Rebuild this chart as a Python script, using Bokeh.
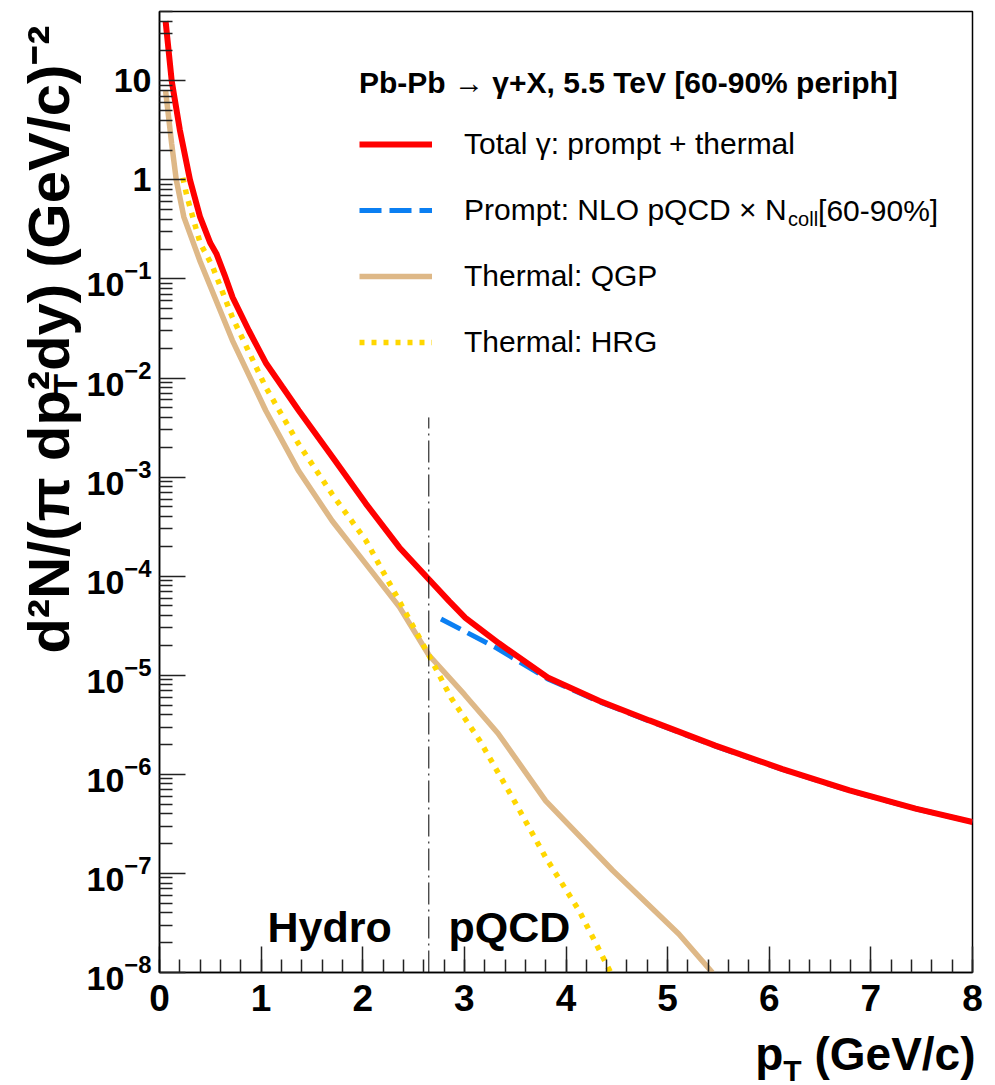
import math
from bokeh.plotting import figure
from bokeh.layouts import row, column
from bokeh.models import Label, FixedTicker, Legend, LegendItem, Range1d, LogTickFormatter
from bokeh.embed import file_html
from bokeh.resources import INLINE

# ---------------- data ----------------
total_pt = [0.06, 0.12, 0.20, 0.30, 0.40, 0.50, 0.56, 0.64, 0.72, 0.88, 1.05, 1.21, 1.37,
            1.70, 2.03, 2.36, 2.65, 2.85, 3.01, 3.34, 3.82, 4.33, 4.82, 5.47, 6.13, 6.79, 7.44, 8.0]
total_val = [40.0, 10.0, 3.2, 1.0, 0.42, 0.23, 0.18, 0.11, 0.065, 0.030, 0.0140, 0.0081, 4.7e-3,
             1.6e-3, 5.4e-4, 1.95e-4, 9.3e-5, 5.6e-5, 3.8e-5, 2.1e-5, 9.5e-6, 5.5e-6, 3.5e-6,
             1.95e-6, 1.13e-6, 6.9e-7, 4.5e-7, 3.3e-7]

prompt_pt = [2.77, 3.31, 3.82, 4.33, 4.82, 5.47, 6.13, 6.79, 7.44, 8.0]
prompt_val = [3.7e-5, 1.9e-5, 9.2e-6, 5.4e-6, 3.45e-6, 1.93e-6, 1.12e-6, 6.85e-7, 4.5e-7, 3.3e-7]

qgp_pt = [0.06, 0.12, 0.165, 0.24, 0.40, 0.717, 1.045, 1.37, 1.70, 2.03, 2.36, 2.65, 3.0,
          3.33, 3.80, 4.46, 5.11, 5.44]
qgp_val = [7.9, 2.3, 1.0, 0.42, 0.15, 0.024, 4.7e-3, 1.15e-3, 3.6e-4, 1.33e-4, 4.9e-5, 1.6e-5,
           6.4e-6, 2.6e-6, 5.4e-7, 1.07e-7, 2.45e-8, 1.0e-8]

hrg_pt = [0.23, 0.27, 0.40, 0.52, 0.717, 1.045, 1.37, 1.70, 2.03, 2.36, 2.65, 2.87, 3.15,
          3.47, 3.80, 4.13, 4.44]
hrg_val = [1.05, 0.68, 0.23, 0.135, 0.041, 8.1e-3, 2.15e-3, 6.7e-4, 2.3e-4, 5.6e-5, 1.6e-5,
           5.9e-6, 2.2e-6, 5.9e-7, 1.45e-7, 4.2e-8, 1.0e-8]

boundary_pt = 2.65          # Hydro / pQCD separation line
boundary_top = 4.0e-3

x_tick_values = [0, 1, 2, 3, 4, 5, 6, 7, 8]
y_tick_exponents = [-8, -7, -6, -5, -4, -3, -2, -1, 0, 1]
y_plain_labels = {1.0: "1", 10.0: "10"}

header_text = "Pb-Pb \u2192 \u03b3+X, 5.5 TeV [60-90% periph]"
legend_labels = ["Total \u03b3: prompt + thermal",
                 "Prompt: NLO pQCD \u00d7 N",
                 "Thermal: QGP",
                 "Thermal: HRG"]
prompt_sub = "coll"
prompt_tail = "[60-90%]"
y_title_head = "d\u00b2N/(\u03c0 dp"
y_title_tail = "\u00b2dy) (GeV/c)\u207b\u00b2"
y_title_sub = "T"

# ---------------- geometry (page pixels) ----------------
W, H = 995, 1085
STRIP = 83                           # left strip holding the rotated y title
FL, FR, FT = 160, 22, 11
FW, FH = 813, 961
MAIN_BOTTOM = 55
MAIN_H = FT + FH + MAIN_BOTTOM       # 1027
BOT_H = H - MAIN_H                   # 58
X0, X1 = 0.0, 8.0
Y0, Y1 = 1e-8, 50.0
LY0, LY1 = math.log10(Y0), math.log10(Y1)
PPD = FH / (LY1 - LY0)               # pixels per decade
MID = 0.35                           # middle-baseline offset (fraction of font size)


def dx(px):
    return X0 + (px - FL) / FW * (X1 - X0)


def dy(py):
    return 10 ** (LY1 - (py - FT) / PPD)


FONT = "Liberation Sans"
BOLD_W = {' ': 278, '(': 333, ')': 333, '/': 278, '-': 333, '+': 584, '%': 889, '[': 333,
          ']': 333, ',': 278, '.': 278, ':': 333, 'd': 611, 'N': 722, 'p': 611, 'y': 556,
          'G': 778, 'e': 556, 'V': 667, 'c': 556, 'T': 611, '\u03c0': 600, '\u00b2': 333,
          '\u207b': 420}
REG_W = {' ': 278, 'P': 667, 'r': 333, 'o': 556, 'm': 833, 'p': 556, 't': 278, ':': 278,
         'N': 722, 'L': 556, 'O': 778, 'Q': 778, 'C': 722, 'D': 722, '\u00d7': 584, 'c': 500,
         'l': 222, '[': 278, ']': 278, '%': 889, '-': 333}


def tw(s, size, bold=True):
    tab = BOLD_W if bold else REG_W
    return sum(tab.get(ch, 556) for ch in s) / 1000.0 * size


def add_label(fig, text, x, y, size, bold=True, align="left", angle=0.0):
    fig.add_layout(Label(x=x, y=y, text=text, text_font=FONT,
                         text_font_size=f"{size}px",
                         text_font_style="bold" if bold else "normal",
                         text_align=align, text_baseline="middle",
                         angle=angle, angle_units="rad", text_color="black"))


def text_fig(w, h, xr, yr):
    f = figure(width=w, height=h, x_range=xr, y_range=yr,
               x_axis_location=None, y_axis_location=None,
               output_backend="svg", toolbar_location=None, min_border=0)
    f.min_border_left = f.min_border_right = f.min_border_top = f.min_border_bottom = 0
    f.outline_line_color = None
    f.grid.visible = False
    f.background_fill_color = "white"
    f.border_fill_color = "white"
    return f


# ---------------- main plot ----------------
p = figure(frame_width=FW, frame_height=FH,
           x_range=Range1d(X0, X1), y_range=Range1d(Y0, Y1),
           y_axis_type="log", output_backend="svg", toolbar_location=None,
           min_border_left=0, min_border_right=FR, min_border_top=FT,
           min_border_bottom=MAIN_BOTTOM)
p.grid.visible = False
p.background_fill_color = "white"
p.border_fill_color = "white"
p.outline_line_color = "black"
p.outline_line_width = 1.5

for ax in (p.xaxis, p.yaxis):
    ax.axis_line_color = "black"
    ax.axis_line_width = 1.5
    ax.major_tick_line_color = "#222222"
    ax.minor_tick_line_color = "#222222"
    ax.major_tick_line_width = 1.5
    ax.minor_tick_line_width = 1.5
    ax.major_tick_in = 26
    ax.major_tick_out = 0
    ax.minor_tick_in = 13
    ax.minor_tick_out = 0
    ax.major_label_text_font = FONT
    ax.major_label_text_font_style = "bold"
    ax.major_label_text_color = "black"

p.xaxis.ticker = FixedTicker(ticks=x_tick_values,
                             minor_ticks=[k * 0.2 for k in range(0, 41)])
p.xaxis.major_label_text_font_size = "37px"
p.xaxis.major_label_standoff = 12

p.yaxis.ticker = FixedTicker(ticks=[10.0 ** e for e in y_tick_exponents],
                             minor_ticks=[m * 10.0 ** e for e in range(-8, 2) for m in range(2, 10)])
p.yaxis.formatter = LogTickFormatter()
p.yaxis.major_label_overrides = y_plain_labels
p.yaxis.major_label_text_font_size = "34px"
p.yaxis.major_label_standoff = 8

r_qgp = p.line(qgp_pt, qgp_val, line_color="#deb887", line_width=5.5)
r_hrg = p.line(hrg_pt, hrg_val, line_color="#ffd700", line_width=5.5, line_dash="5 7")
r_prompt = p.line(prompt_pt, prompt_val, line_color="#0b7ff2", line_width=5, line_dash="22 8")
r_total = p.line(total_pt, total_val, line_color="#ff0000", line_width=6)
p.segment(x0=[boundary_pt], y0=[Y0], x1=[boundary_pt], y1=[boundary_top],
          line_color="black", line_width=1, line_dash="22 5 2 5")

LEG_X, LEG_BOTTOM = 200, 375
legend = Legend(items=[LegendItem(label=legend_labels[0], renderers=[r_total]),
                       LegendItem(label=legend_labels[1], renderers=[r_prompt]),
                       LegendItem(label=legend_labels[2], renderers=[r_qgp]),
                       LegendItem(label=legend_labels[3], renderers=[r_hrg])],
                location=(LEG_X, FT + FH - LEG_BOTTOM),
                title=header_text)
legend.title_text_font = FONT
legend.title_text_font_style = "bold"
legend.title_text_font_size = "30px"
legend.title_text_color = "black"
legend.title_standoff = 11
legend.label_text_font = FONT
legend.label_text_font_size = "30px"
legend.label_text_color = "black"
legend.glyph_width = 73
legend.glyph_height = 66
legend.label_height = 66
legend.label_standoff = 32
legend.spacing = 0
legend.padding = 0
legend.margin = 0
legend.border_line_color = None
legend.background_fill_alpha = 0
p.add_layout(legend)

text_x0 = FL + LEG_X + 73 + 32
n_end = text_x0 + tw(legend_labels[1], 30, bold=False)
add_label(p, prompt_sub, dx(n_end + 1), dy(218), 20, bold=False)
add_label(p, prompt_tail, dx(n_end + 1 + tw(prompt_sub, 20, bold=False)), dy(210), 30,
          bold=False)

HF = 43
add_label(p, "Hydro", dx(268), dy(942 - MID * HF), HF)
add_label(p, "pQCD", dx(449), dy(942 - MID * HF), HF)

# ---------------- left strip: rotated y title ----------------
left = text_fig(STRIP, MAIN_H, Range1d(0, STRIP), Range1d(MAIN_H, 0))
YF, YSUB = 58, 34
ang = math.pi / 2
base_b = 68.0                                   # baseline (page x)
start = 662.0                                   # bottom end of the title (page y)
full = y_title_head + y_title_tail
L_full = tw(full, YF)
add_label(left, full, base_b - MID * YF, start - L_full / 2, YF, align="center", angle=ang)
sup_pos = start - tw(y_title_head, YF) - tw("\u00b2", YF) / 2
add_label(left, y_title_sub, (base_b + 8) - MID * YSUB, sup_pos, YSUB, align="center", angle=ang)

# ---------------- bottom strip: x title ----------------
bottom = text_fig(W, BOT_H, Range1d(dx(0), dx(W)), Range1d(H, MAIN_H))
XF, XS = 46, 30
w_total = tw("p", XF) + tw("T", XS) + tw(" (GeV/c)", XF)
xs0 = 975 - w_total
add_label(bottom, "p", dx(xs0), 1070 - MID * XF, XF)
add_label(bottom, "T", dx(xs0 + tw("p", XF)), 1080 - MID * XS, XS)
add_label(bottom, "(GeV/c)", dx(xs0 + tw("p", XF) + tw("T", XS) + tw(" ", XF)),
          1070 - MID * XF, XF)

layout = column(row(left, p, spacing=0), bottom, spacing=0)
open("out.html", "w").write(file_html(layout, INLINE))
